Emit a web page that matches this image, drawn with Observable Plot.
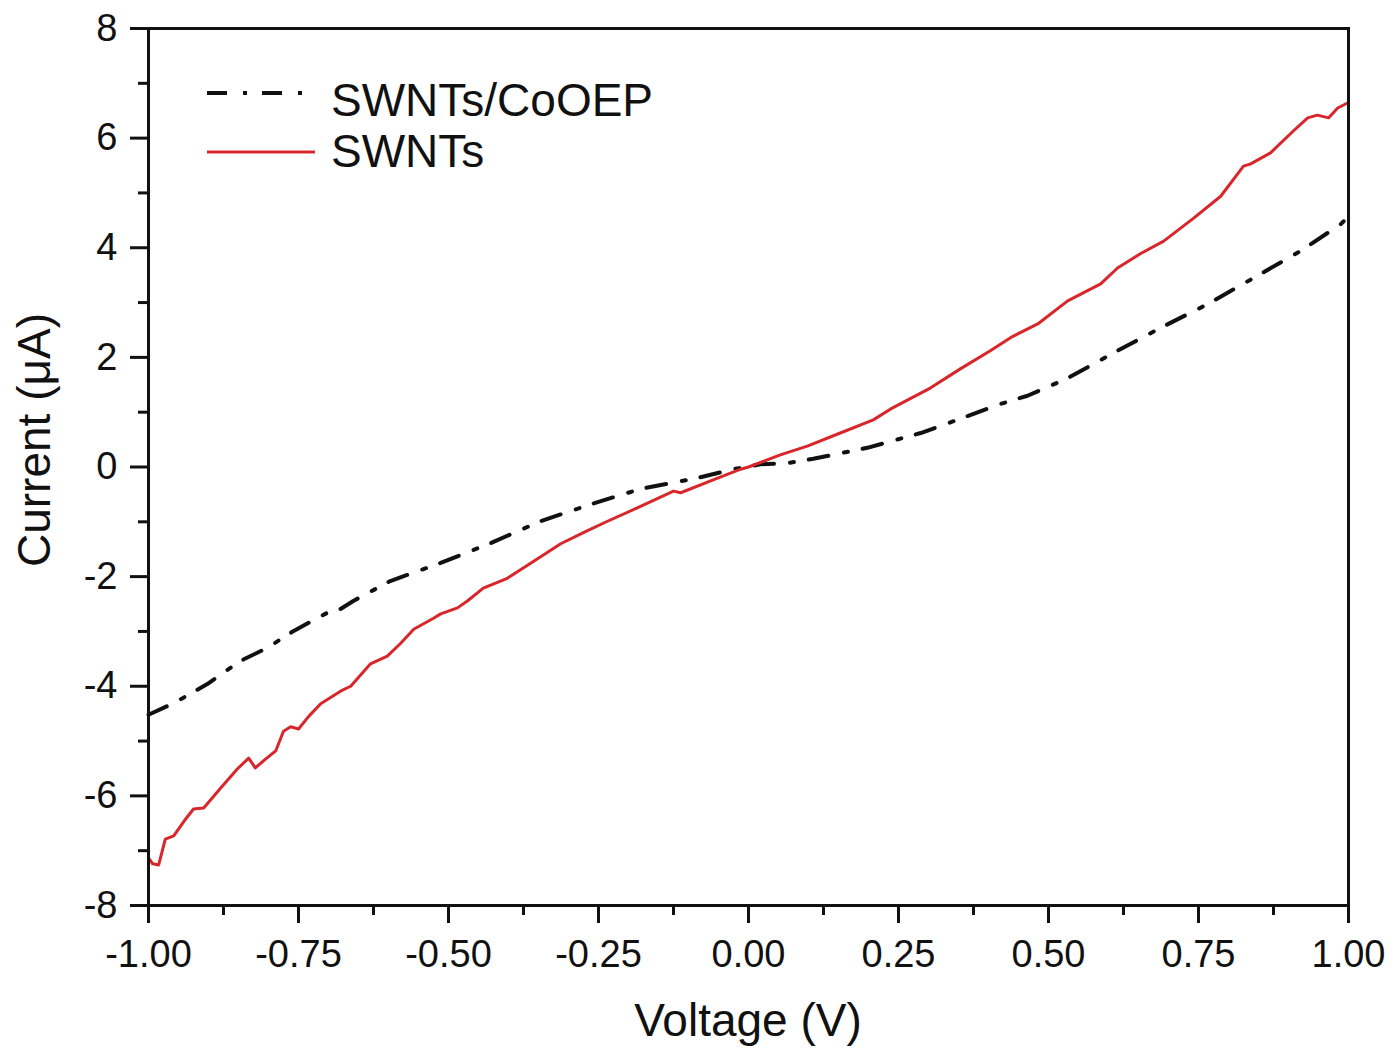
<!DOCTYPE html>
<html>
<head>
<meta charset="utf-8">
<script src="https://cdn.jsdelivr.net/npm/d3@7"></script>
<script src="https://cdn.jsdelivr.net/npm/@observablehq/plot@0.6"></script>
<style>
  html, body { margin: 0; padding: 0; background: #fff; }
  svg { display: block; }
</style>
</head>
<body>
<div id="chart"></div>
<script>
// ---- Data ----
const seriesNames = ["SWNTs/CoOEP", "SWNTs"];

const voltageSWNTs = [
  -1.000, -0.993, -0.983, -0.972, -0.958, -0.940, -0.925, -0.908, -0.880, -0.852,
  -0.833, -0.822, -0.805, -0.788, -0.775, -0.763, -0.750, -0.733, -0.713, -0.680,
  -0.663, -0.630, -0.602, -0.580, -0.558, -0.525, -0.513, -0.485, -0.468, -0.442,
  -0.402, -0.358, -0.313, -0.270, -0.235, -0.180, -0.125, -0.113, -0.060, -0.013,
   0.000,  0.053,  0.098,  0.153,  0.208,  0.237,  0.303,  0.353,  0.403,  0.440,
   0.482,  0.532,  0.587,  0.615,  0.653,  0.692,  0.742,  0.787,  0.825,  0.837,
   0.870,  0.908,  0.932,  0.948,  0.967,  0.982,  1.000
];
const currentSWNTs = [
  -7.13, -7.24, -7.26, -6.79, -6.73, -6.45, -6.24, -6.22, -5.86, -5.51,
  -5.31, -5.49, -5.33, -5.18, -4.82, -4.74, -4.78, -4.55, -4.32, -4.09,
  -4.00, -3.59, -3.45, -3.22, -2.96, -2.76, -2.68, -2.57, -2.44, -2.21,
  -2.03, -1.72, -1.40, -1.17, -0.99, -0.72, -0.44, -0.47, -0.24, -0.04,
   0.00,  0.22,  0.38,  0.62,  0.86,  1.06,  1.44,  1.79,  2.12,  2.38,
   2.61,  3.03,  3.34,  3.63,  3.89,  4.12,  4.54,  4.94,  5.49,  5.53,
   5.73,  6.13,  6.37,  6.42,  6.37,  6.55,  6.65
];

const voltageCoOEP = [
  -1.000, -0.958, -0.902, -0.847, -0.802, -0.758, -0.702, -0.680, -0.658, -0.597,
  -0.513, -0.430, -0.347, -0.263, -0.180, -0.085, -0.025,  0.020,  0.065,  0.108,
   0.198,  0.287,  0.333,  0.365,  0.420,  0.465,  0.532,  0.615,  0.687,  0.765,
   0.842,  0.920,  0.987,  1.000
];
const currentCoOEP = [
  -4.52, -4.31, -3.96, -3.54, -3.30, -2.99, -2.66, -2.59, -2.44, -2.08,
  -1.75, -1.39, -0.99, -0.68, -0.40, -0.20, -0.04,  0.05,  0.07,  0.15,
   0.35,  0.62,  0.80,  0.93,  1.15,  1.30,  1.62,  2.12,  2.54,  2.97,
   3.45,  3.94,  4.43,  4.57
];

const xTicks = [-1.00, -0.75, -0.50, -0.25, 0.00, 0.25, 0.50, 0.75, 1.00];
const xMinorTicks = [-0.875, -0.625, -0.375, -0.125, 0.125, 0.375, 0.625, 0.875];
const yTicks = [-8, -6, -4, -2, 0, 2, 4, 6, 8];
const yMinorTicks = [-7, -5, -3, -1, 1, 3, 5, 7];

const xLabel = "Voltage (V)";
const yLabel = "Current (\u03bcA)";

// ---- Build tables ----
const swnts = voltageSWNTs.map((v, k) => ({v, i: currentSWNTs[k]}));
const cooep = voltageCoOEP.map((v, k) => ({v, i: currentCoOEP[k]}));

const RED = "#d8262b";
const BLACK = "#111111";
const DASH = "20,16,4,15";
const FONT = "'Liberation Sans', Arial, Helvetica, sans-serif";

const chart = Plot.plot({
  width: 1398,
  height: 1048,
  marginLeft: 148,
  marginRight: 50,
  marginTop: 28,
  marginBottom: 143,
  style: {fontFamily: FONT, fontSize: "37px", color: "#111", background: "#fff"},
  x: {domain: [-1, 1]},
  y: {domain: [-8, 8]},
  marks: [
    Plot.axisX({ticks: xMinorTicks, tickSize: 10, strokeWidth: 3, tickFormat: () => "", label: null}),
    Plot.axisY({ticks: yMinorTicks, tickSize: 10, strokeWidth: 3, tickFormat: () => "", label: null}),
    Plot.axisX({ticks: xTicks, tickSize: 18, tickPadding: 17, strokeWidth: 3, fontSize: 38,
                tickFormat: d => d.toFixed(2), label: null}),
    Plot.axisY({ticks: yTicks, tickSize: 18, tickPadding: 13, strokeWidth: 3, fontSize: 38,
                tickFormat: d => String(d), label: null}),
    Plot.line(cooep, {x: "v", y: "i", stroke: BLACK, strokeWidth: 4, strokeDasharray: DASH}),
    Plot.line(swnts, {x: "v", y: "i", stroke: RED, strokeWidth: 3, strokeLinejoin: "round"}),
    Plot.frame({stroke: BLACK, strokeWidth: 3})
  ]
});

document.getElementById("chart").appendChild(chart);

// ---- Axis titles and legend ----
const svg = d3.select(chart);
svg.append("text")
  .attr("x", 748).attr("y", 1036)
  .attr("text-anchor", "middle")
  .attr("font-family", FONT).attr("font-size", 46).attr("fill", "#111")
  .text(xLabel);
svg.append("text")
  .attr("transform", "translate(50,440) rotate(-90)")
  .attr("text-anchor", "middle")
  .attr("font-family", FONT).attr("font-size", 46).attr("fill", "#111")
  .text(yLabel);

const legend = svg.append("g").attr("text-anchor", "start");
const legendItems = [
  {name: seriesNames[0], stroke: BLACK, width: 4, dash: DASH, y: 93, base: 116},
  {name: seriesNames[1], stroke: RED, width: 3, dash: null, y: 152, base: 167}
];
legendItems.forEach(d => {
  legend.append("line")
    .attr("x1", 207).attr("x2", 315).attr("y1", d.y).attr("y2", d.y)
    .attr("stroke", d.stroke).attr("stroke-width", d.width)
    .attr("stroke-dasharray", d.dash);
  legend.append("text")
    .attr("x", 331).attr("y", d.base)
    .attr("text-anchor", "start")
    .attr("font-family", FONT).attr("font-size", 46).attr("fill", "#111")
    .text(d.name);
});
</script>
</body>
</html>
